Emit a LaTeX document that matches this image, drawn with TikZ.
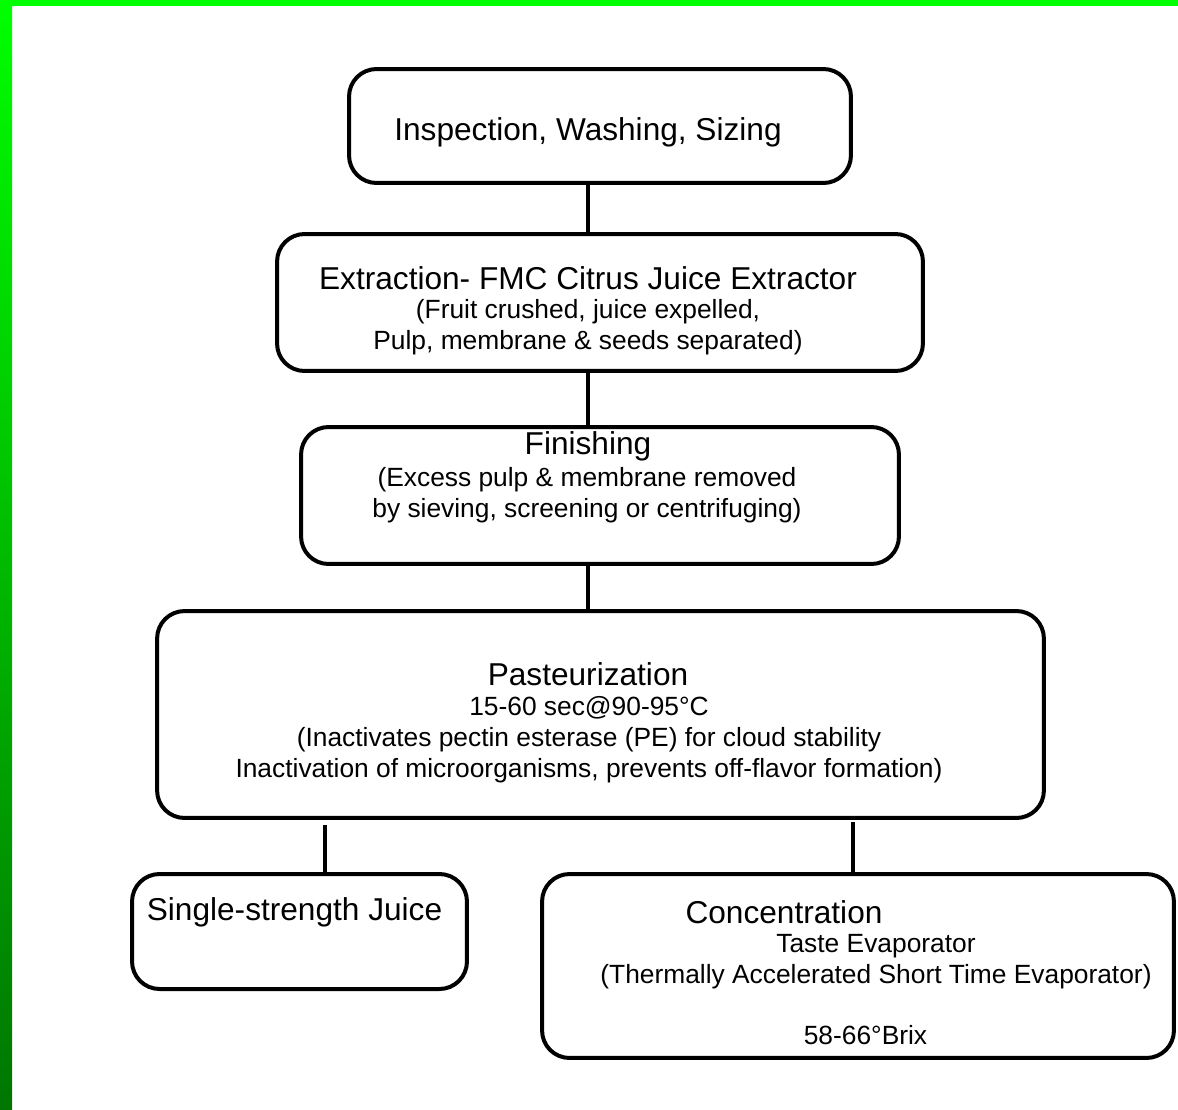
\documentclass[tikz,border=0pt]{standalone}
\usepackage{fontspec}
\setmainfont{Liberation Sans}
\usetikzlibrary{positioning}
\definecolor{barlime}{RGB}{0,255,0}
\definecolor{bardark}{RGB}{0,118,0}

\begin{document}
\begin{tikzpicture}[
    x=0.02cm, y=-0.02cm,
    stage/.style={rectangle, draw, line width=0.08cm, rounded corners=0.55cm, inner sep=0pt},
    head/.style={font=\fontsize{18}{21}\selectfont},
    note/.style={align=center, font=\fontsize{15}{17.6}\selectfont},
    link/.style={line width=0.08cm}
]
\useasboundingbox (0,0) rectangle (1178,1110);

% green frame
\fill[barlime] (0,0) rectangle (1178,6);
\shade[top color=barlime, bottom color=bardark] (0,0) rectangle (12,1110);

% boxes
\node[stage, minimum width=10.04cm, minimum height=2.28cm] (insp) at (600,126) {};
\node[stage, minimum width=12.92cm, minimum height=2.74cm] (extr) at (600,302.5) {};
\node[stage, minimum width=11.96cm, minimum height=2.74cm] (fini) at (600,495.5) {};
\node[stage, minimum width=17.74cm, minimum height=4.14cm] (past) at (600.5,714.5) {};
\node[stage, minimum width=6.70cm, minimum height=2.30cm] (single) at (299.5,931.5) {};
\node[stage, minimum width=12.64cm, minimum height=3.68cm] (conc) at (858,966) {};

% texts
\node[head] (insptxt) at (588,132) {Inspection, Washing, Sizing};

\node[head] (extrtxt) at (588,278) {Extraction- FMC Citrus Juice Extractor};
\node[note] (extrnote) at (588,327) {(Fruit crushed, juice expelled,\\Pulp, membrane \& seeds separated)};

\node[head] (finitxt) at (588,446) {Finishing};
\node[note] (fininote) at (587,495.5) {(Excess pulp \& membrane removed\\by sieving, screening or centrifuging)};

\node[head] (pasttxt) at (588,674) {Pasteurization};
\node[note] (pastnote) at (589,740) {15-60 sec@90-95°C\\(Inactivates pectin esterase (PE) for cloud stability\\Inactivation of microorganisms, prevents off-flavor formation)};

\node[head] (singletxt) at (294.5,912) {Single-strength Juice};

\node[head] (conctxt) at (784,912) {Concentration};
\node[note] (concnote) at (876,961.5) {Taste Evaporator\\(Thermally Accelerated Short Time Evaporator)};
\node[note] (brix) at (865.5,1035) {58-66°Brix};

% connectors
\coordinate (spine) at (588,0);
\coordinate (leftleg) at (325,0);
\coordinate (rightleg) at (853,0);
\draw[link] (insp.south -| spine) -- (extr.north -| spine);
\draw[link] (extr.south -| spine) -- (fini.north -| spine);
\draw[link] (fini.south -| spine) -- (past.north -| spine);
\draw[link, shorten <=0.1cm] (past.south -| leftleg) -- (single.north -| leftleg);
\draw[link, shorten <=0.04cm] (past.south -| rightleg) -- (conc.north -| rightleg);

\end{tikzpicture}
\end{document}
